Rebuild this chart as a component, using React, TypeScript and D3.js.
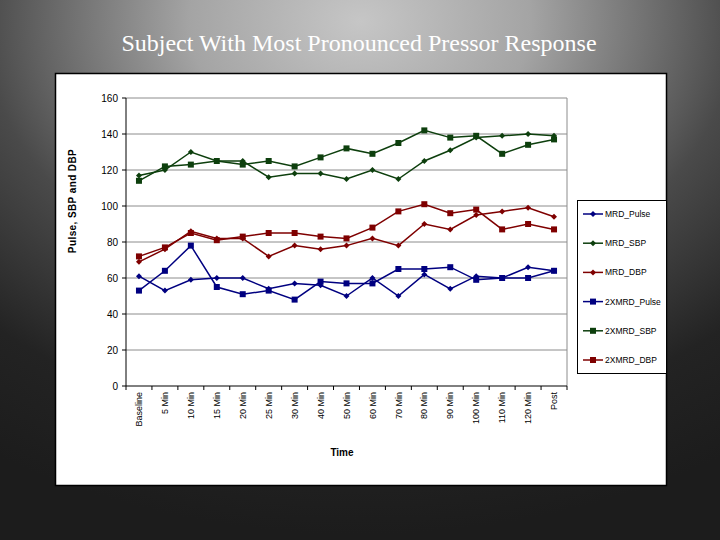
import * as d3 from 'd3'
import { useMemo } from 'react'

const categories = ['Baseline', '5 Min', '10 Min', '15 Min', '20 Min', '25 Min', '30 Min', '40 Min', '50 Min', '60 Min', '70 Min', '80 Min', '90 Min', '100 Min', '110 Min', '120 Min', 'Post']

const mrdPulse = [61, 53, 59, 60, 60, 54, 57, 56, 50, 60, 50, 62, 54, 61, 60, 66, 64]
const mrdSbp = [117, 120, 130, 125, 125, 116, 118, 118, 115, 120, 115, 125, 131, 138, 139, 140, 139]
const mrdDbp = [69, 76, 86, 82, 82, 72, 78, 76, 78, 82, 78, 90, 87, 95, 97, 99, 94]
const x2Pulse = [53, 64, 78, 55, 51, 53, 48, 58, 57, 57, 65, 65, 66, 59, 60, 60, 64]
const x2Sbp = [114, 122, 123, 125, 123, 125, 122, 127, 132, 129, 135, 142, 138, 139, 129, 134, 137]
const x2Dbp = [72, 77, 85, 81, 83, 85, 85, 83, 82, 88, 97, 101, 96, 98, 87, 90, 87]

const yTicks = [0, 20, 40, 60, 80, 100, 120, 140, 160]

const NAVY = '#000080'
const GREEN = '#0d3f0d'
const MAROON = '#7f0000'

const series = [
    { name: 'MRD_Pulse', values: mrdPulse, color: NAVY, marker: 'diamond' },
    { name: 'MRD_SBP', values: mrdSbp, color: GREEN, marker: 'diamond' },
    { name: 'MRD_DBP', values: mrdDbp, color: MAROON, marker: 'diamond' },
    { name: '2XMRD_Pulse', values: x2Pulse, color: NAVY, marker: 'square' },
    { name: '2XMRD_SBP', values: x2Sbp, color: GREEN, marker: 'square' },
    { name: '2XMRD_DBP', values: x2Dbp, color: MAROON, marker: 'square' },
]

const font = '"Liberation Sans", Arial, sans-serif'

const Marker = ({ kind, x, y, color }) => {
    if (kind === 'square') {
        return <rect x={x - 3} y={y - 3} width={6} height={6} fill={color} />
    }
    return <path d={`M${x},${y - 3}L${x + 3},${y}L${x},${y + 3}L${x - 3},${y}Z`} fill={color} />
}

const App = () => {
    const plot = { left: 126, right: 567, top: 98, bottom: 386 }

    const x = useMemo(() => d3.scaleBand().domain(categories).range([plot.left, plot.right]), [])
    const y = useMemo(() => d3.scaleLinear().domain([0, 160]).range([plot.bottom, plot.top]), [])

    const line = d3
        .line<number>()
        .x((_, i) => x(categories[i]) + x.bandwidth() / 2)
        .y(d => y(d))

    const legendY = d3.scalePoint().domain(series.map(s => s.name)).range([214, 360])

    return (
        <svg width={720} height={540} style={{ position: 'absolute', left: 0, top: 0 }}>
            <defs>
                <radialGradient id="bg" cx="50%" cy="4%" r="95%" fx="50%" fy="4%">
                    <stop offset="0%" stopColor="#c6c6c6" />
                    <stop offset="25%" stopColor="#a4a4a4" />
                    <stop offset="55%" stopColor="#4a4a4a" />
                    <stop offset="80%" stopColor="#232323" />
                    <stop offset="100%" stopColor="#1c1c1c" />
                </radialGradient>
            </defs>
            <rect width={720} height={540} fill="url(#bg)" />
            <text x={359} y={51} textAnchor="middle" fill="white" fontFamily='"Liberation Serif", "Times New Roman", serif' fontSize={24}>
                Subject With Most Pronounced Pressor Response
            </text>

            <rect x={55.5} y={73.5} width={611} height={412} fill="white" stroke="black" strokeWidth={1.5} />

            {yTicks.map(t => (
                <g key={t}>
                    {t > 0 && <line x1={plot.left} x2={plot.right} y1={y(t)} y2={y(t)} stroke="#8c8c8c" strokeWidth={1} />}
                    <line x1={plot.left - 4} x2={plot.left} y1={y(t)} y2={y(t)} stroke="black" />
                    <text x={plot.left - 8} y={y(t)} dy="0.35em" textAnchor="end" fontFamily={font} fontSize={10}>{t}</text>
                </g>
            ))}
            <line x1={plot.right} x2={plot.right} y1={plot.top} y2={plot.bottom} stroke="#8c8c8c" />
            <line x1={plot.left} x2={plot.left} y1={plot.top} y2={plot.bottom} stroke="black" />
            <line x1={plot.left} x2={plot.right} y1={plot.bottom} y2={plot.bottom} stroke="black" />

            {categories.map((c, i) => (
                <g key={c}>
                    <line x1={x(c)} x2={x(c)} y1={plot.bottom} y2={plot.bottom + 4} stroke="black" />
                    {i === categories.length - 1 && (
                        <line x1={x(c) + x.bandwidth()} x2={x(c) + x.bandwidth()} y1={plot.bottom} y2={plot.bottom + 4} stroke="black" />
                    )}
                    <text
                        transform={`translate(${x(c) + x.bandwidth() / 2},${plot.bottom + 6}) rotate(-90)`}
                        dy="0.35em"
                        textAnchor="end"
                        fontFamily={font}
                        fontSize={9}
                    >
                        {c}
                    </text>
                </g>
            ))}

            {series.map(s => (
                <g key={s.name}>
                    <path d={line(s.values)} fill="none" stroke={s.color} strokeWidth={1.5} />
                    {s.values.map((v, i) => (
                        <Marker key={i} kind={s.marker} x={x(categories[i]) + x.bandwidth() / 2} y={y(v)} color={s.color} />
                    ))}
                </g>
            ))}

            <text transform="translate(76,201) rotate(-90)" textAnchor="middle" fontFamily={font} fontSize={10} fontWeight="bold" letterSpacing={0.4}>
                Pulse, SBP and DBP
            </text>
            <text x={342} y={456} textAnchor="middle" fontFamily={font} fontSize={10} fontWeight="bold">Time</text>

            <rect x={577.5} y={200.5} width={89} height={173} fill="white" stroke="black" />
            {series.map(s => (
                <g key={s.name}>
                    <line x1={583} x2={603} y1={legendY(s.name)} y2={legendY(s.name)} stroke={s.color} strokeWidth={1.5} />
                    <Marker kind={s.marker} x={593} y={legendY(s.name)} color={s.color} />
                    <text x={605} y={legendY(s.name)} dy="0.35em" fontFamily={font} fontSize={8.5}>{s.name}</text>
                </g>
            ))}
        </svg>
    )
}

export default App
